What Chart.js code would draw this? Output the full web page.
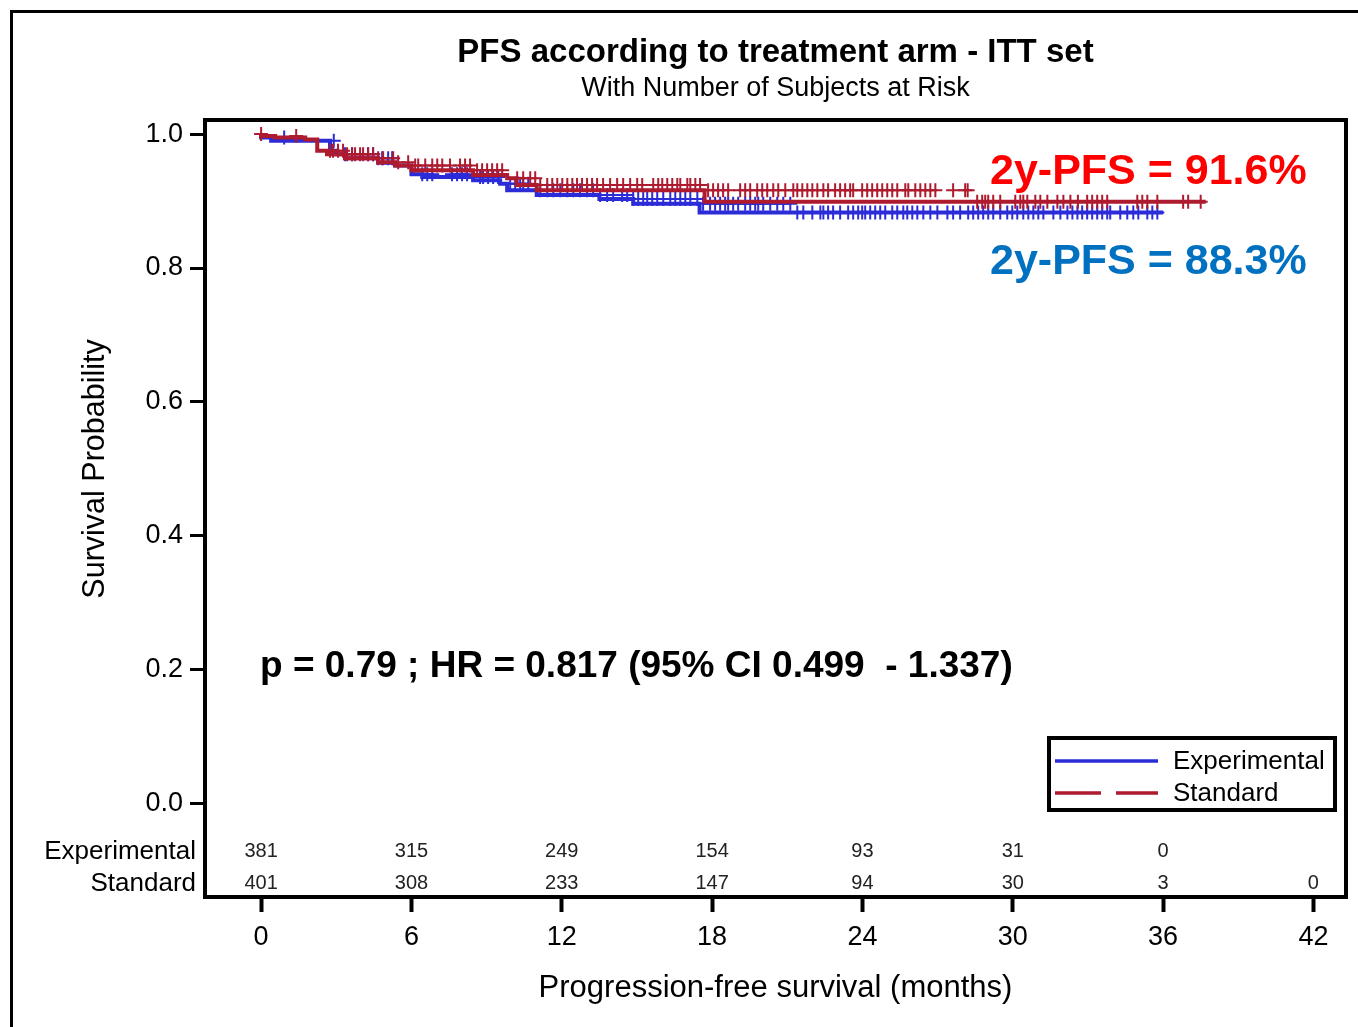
<!DOCTYPE html>
<html>
<head>
<meta charset="utf-8">
<script src="https://cdn.jsdelivr.net/npm/chart.js@4.4.1/dist/chart.umd.min.js"></script>
<style>
  html, body { margin: 0; padding: 0; background: #ffffff; }
  canvas { display: block; }
</style>
</head>
<body>
<canvas id="km" width="1358" height="1027"></canvas>
<script>
const FONT = '"Liberation Sans", Arial, Helvetica, sans-serif';
const BLUE = '#2b2bd8';
const RED = '#ae1a2e';

// Kaplan-Meier step functions: time (months) and survival after each event
const expTimes = [0, 0.4, 2.75, 2.95, 3.35, 4.67, 5.35, 6.0, 6.43, 8.46, 9.54, 9.82, 11.0, 13.5, 14.85, 17.5, 21.2, 36.0];
const expSurv  = [1.0, 0.995, 0.99, 0.975, 0.97, 0.964, 0.957, 0.953, 0.940, 0.936, 0.931, 0.926, 0.916, 0.909, 0.903, 0.896, 0.883, 0.883];

const stdTimes = [0, 0.56, 1.76, 2.24, 2.63, 3.35, 4.67, 5.35, 6.0, 8.46, 9.82, 10.2, 11.0, 17.7, 28.45, 37.7];
const stdSurv  = [1.0, 0.997, 0.995, 0.992, 0.975, 0.970, 0.964, 0.958, 0.953, 0.946, 0.939, 0.934, 0.924, 0.916, 0.899, 0.899];

// Censoring times (months)
const expCensor = [0.92, 2.9, 3.35, 3.63, 4.27, 4.47, 4.83, 5.07, 5.23, 6.43, 6.63, 6.83,
  7.62, 7.82, 8.02, 8.22, 8.74, 8.86, 9.06, 9.26, 9.46, 9.94, 10.14, 10.34, 10.46, 10.66, 11.14, 11.42, 11.66, 11.94,
  12.22, 12.46, 12.73, 13.01, 13.25, 13.53, 13.81, 14.05, 14.41, 14.61, 14.85,
  15.05, 15.25, 15.41, 15.61, 15.81, 16.05, 16.33, 16.53, 16.73, 16.93, 17.13, 17.41, 17.64, 17.92, 18.12, 18.32,
  18.52, 18.64, 18.84, 19.04, 19.32, 19.52, 19.72, 19.84, 20.04, 20.32, 20.6, 20.84, 21.12, 21.4, 21.64, 22.0, 22.32,
  22.44, 22.63, 22.83, 23.11, 23.43, 23.63, 23.83, 23.99, 24.11, 24.31, 24.51, 24.71, 24.91, 25.19, 25.39, 25.63,
  25.79, 25.99, 26.19, 26.43, 26.71, 26.99, 27.39, 27.62, 27.9, 28.22, 28.42, 28.62, 28.82, 29.02, 29.22, 29.5,
  29.78, 29.98, 30.18, 30.42, 30.62, 30.82, 31.02, 31.22, 31.62, 31.9, 32.18, 32.38, 32.58, 32.77, 32.97, 33.17,
  33.37, 33.57, 33.77, 33.89, 34.29, 34.57, 34.81, 35.01, 35.37, 35.57, 35.77];

const stdCensor = [0.0, 1.4,
  2.75, 2.87, 3.07, 3.27, 3.43, 3.63, 3.75, 3.95, 4.07, 4.27, 4.47, 4.67, 4.87, 5.27, 5.47, 5.87, 6.15, 6.27, 6.55,
  6.83, 7.03, 7.23, 7.54, 7.94, 8.14, 8.34, 8.62, 8.82, 9.02, 9.22, 9.42, 9.62, 10.22, 10.46, 10.74, 10.94, 11.14,
  11.42, 11.62, 11.82, 12.02, 12.22, 12.42, 12.61, 12.81, 13.01, 13.21, 13.41, 13.65, 13.93, 14.21, 14.45, 14.73,
  15.01, 15.21, 15.65, 15.85, 16.01, 16.21, 16.41, 16.61, 16.73, 17.01, 17.13, 17.33, 17.52, 17.84, 18.04, 18.24,
  18.44, 18.64, 19.12, 19.32, 19.52, 19.8, 20.0, 20.2, 20.44, 20.64, 20.92, 21.24, 21.4, 21.6, 21.8, 22.0, 22.2,
  22.44, 22.63, 22.91, 23.11, 23.31, 23.51, 23.63, 23.99, 24.19, 24.39, 24.59, 24.79, 24.99, 25.19, 25.39, 25.71,
  25.83, 26.11, 26.31, 26.51, 26.71, 26.91, 27.62, 28.1, 28.2, 28.58, 28.78, 28.9, 29.02, 29.22, 29.5, 30.1, 30.3,
  30.42, 30.58, 30.9, 31.1, 31.38, 31.78, 32.02, 32.3, 32.6, 32.97, 33.17, 33.37, 33.57, 33.77, 34.97, 35.17,
  35.37, 35.77, 36.8, 37.0, 37.5];

// Number at risk
const riskTimes = [0, 6, 12, 18, 24, 30, 36, 42];
const expRisk = [381, 315, 249, 154, 93, 31, 0];
const stdRisk = [401, 308, 233, 147, 94, 30, 3, 0];

const xTicks = [0, 6, 12, 18, 24, 30, 36, 42];
const yTicks = [0, 0.2, 0.4, 0.6, 0.8, 1.0];

function stepPoints(times, surv) {
  return times.map((t, i) => ({ x: t, y: surv[i] }));
}
function survAt(times, surv, t) {
  let v = surv[0];
  for (let i = 0; i < times.length; i++) {
    if (times[i] <= t) v = surv[i]; else break;
  }
  return v;
}
function censorPoints(censor, times, surv) {
  return censor.map(t => ({ x: t, y: survAt(times, surv, t) }));
}

const decorations = {
  id: 'decorations',
  afterDraw(chart) {
    const ctx = chart.ctx;
    const area = chart.chartArea;
    const xs = chart.scales.x;
    const ys = chart.scales.y;
    ctx.save();

    // outer frame
    ctx.strokeStyle = '#000';
    ctx.lineWidth = 3;
    ctx.beginPath();
    ctx.moveTo(11.5, 1027);
    ctx.lineTo(11.5, 11.5);
    ctx.lineTo(1358, 11.5);
    ctx.stroke();

    // plot box
    ctx.lineWidth = 4;
    ctx.strokeRect(area.left, area.top, area.right - area.left, area.bottom - area.top);

    const cx = (area.left + area.right) / 2;
    ctx.fillStyle = '#000';
    ctx.textAlign = 'center';
    ctx.textBaseline = 'middle';
    ctx.font = 'bold 33px ' + FONT;
    ctx.fillText('PFS according to treatment arm - ITT set', cx, 53);
    ctx.font = '27px ' + FONT;
    ctx.fillText('With Number of Subjects at Risk', cx, 89);

    // y-axis title
    ctx.save();
    ctx.translate(96, ys.getPixelForValue(0.5));
    ctx.rotate(-Math.PI / 2);
    ctx.font = '30.5px ' + FONT;
    ctx.fillText('Survival Probability', 0, 0);
    ctx.restore();

    // number at risk
    const rowExp = ys.getPixelForValue(-0.0717);
    const rowStd = ys.getPixelForValue(-0.119);
    ctx.font = '26px ' + FONT;
    ctx.textAlign = 'right';
    ctx.fillText('Experimental', 196, rowExp);
    ctx.fillText('Standard', 196, rowStd);
    ctx.font = '20px ' + FONT;
    ctx.textAlign = 'center';
    ctx.fillStyle = '#222';
    expRisk.forEach((n, i) => ctx.fillText(String(n), xs.getPixelForValue(riskTimes[i]), rowExp));
    stdRisk.forEach((n, i) => ctx.fillText(String(n), xs.getPixelForValue(riskTimes[i]), rowStd));

    // annotations
    ctx.textAlign = 'left';
    ctx.font = 'bold 43px ' + FONT;
    ctx.fillStyle = '#ff0000';
    ctx.fillText('2y-PFS = 91.6%', 990, 172);
    ctx.fillStyle = '#0070c0';
    ctx.fillText('2y-PFS = 88.3%', 990, 262);
    ctx.fillStyle = '#000';
    ctx.font = 'bold 37px ' + FONT;
    ctx.fillText('p = 0.79 ; HR = 0.817 (95% CI 0.499  - 1.337)', 260, 667);

    // legend
    ctx.lineWidth = 4;
    ctx.strokeStyle = '#000';
    ctx.strokeRect(1049, 738, 286, 72);
    ctx.lineWidth = 3.5;
    ctx.strokeStyle = BLUE;
    ctx.beginPath(); ctx.moveTo(1055, 761); ctx.lineTo(1158, 761); ctx.stroke();
    ctx.strokeStyle = RED;
    ctx.setLineDash([46, 15]);
    ctx.beginPath(); ctx.moveTo(1055, 793); ctx.lineTo(1158, 793); ctx.stroke();
    ctx.setLineDash([]);
    ctx.fillStyle = '#000';
    ctx.font = '26px ' + FONT;
    ctx.fillText('Experimental', 1173, 762);
    ctx.fillText('Standard', 1173, 794);

    ctx.restore();
  }
};

new Chart(document.getElementById('km').getContext('2d'), {
  type: 'scatter',
  data: {
    datasets: [
      { label: 'Standard', data: stepPoints(stdTimes, stdSurv), showLine: true, stepped: 'after',
        borderColor: RED, borderWidth: 4, pointRadius: 0, fill: false, order: 0 },
      { label: 'Standard (censored)', data: censorPoints(stdCensor, stdTimes, stdSurv), showLine: false,
        pointStyle: 'cross', pointRadius: 7, pointBorderWidth: 2, borderColor: RED, backgroundColor: RED, order: 1 },
      { label: 'Experimental', data: stepPoints(expTimes, expSurv), showLine: true, stepped: 'after',
        borderColor: BLUE, borderWidth: 4, pointRadius: 0, fill: false, order: 2 },
      { label: 'Experimental (censored)', data: censorPoints(expCensor, expTimes, expSurv), showLine: false,
        pointStyle: 'cross', pointRadius: 7, pointBorderWidth: 2, borderColor: BLUE, backgroundColor: BLUE, order: 3 }
    ]
  },
  options: {
    responsive: false,
    animation: false,
    devicePixelRatio: 1,
    layout: { padding: { left: 0, top: 120, right: 12, bottom: 0 } },
    plugins: { legend: { display: false }, tooltip: { enabled: false }, title: { display: false } },
    scales: {
      x: {
        type: 'linear', min: -2.24, max: 43.3,
        afterBuildTicks: s => { s.ticks = xTicks.map(v => ({ value: v })); },
        afterFit: s => { s.height = 130; },
        border: { display: false },
        grid: { drawOnChartArea: false, drawTicks: true, tickLength: 15, tickWidth: 4, tickColor: '#000' },
        ticks: { font: { family: FONT, size: 27 }, color: '#000', padding: 9, maxRotation: 0, autoSkip: false },
        title: { display: true, text: 'Progression-free survival (months)', color: '#000',
                 font: { family: FONT, size: 31 }, padding: { top: 0, bottom: 20 } }
      },
      y: {
        type: 'linear', min: -0.139, max: 1.021,
        afterBuildTicks: s => { s.ticks = yTicks.map(v => ({ value: v })); },
        afterFit: s => { s.width = 205; },
        border: { display: false },
        grid: { drawOnChartArea: false, drawTicks: true, tickLength: 15, tickWidth: 3, tickColor: '#000' },
        ticks: { font: { family: FONT, size: 27 }, color: '#000', padding: 7, autoSkip: false,
                 callback: v => v.toFixed(1) }
      }
    }
  },
  plugins: [decorations]
});
</script>
</body>
</html>
